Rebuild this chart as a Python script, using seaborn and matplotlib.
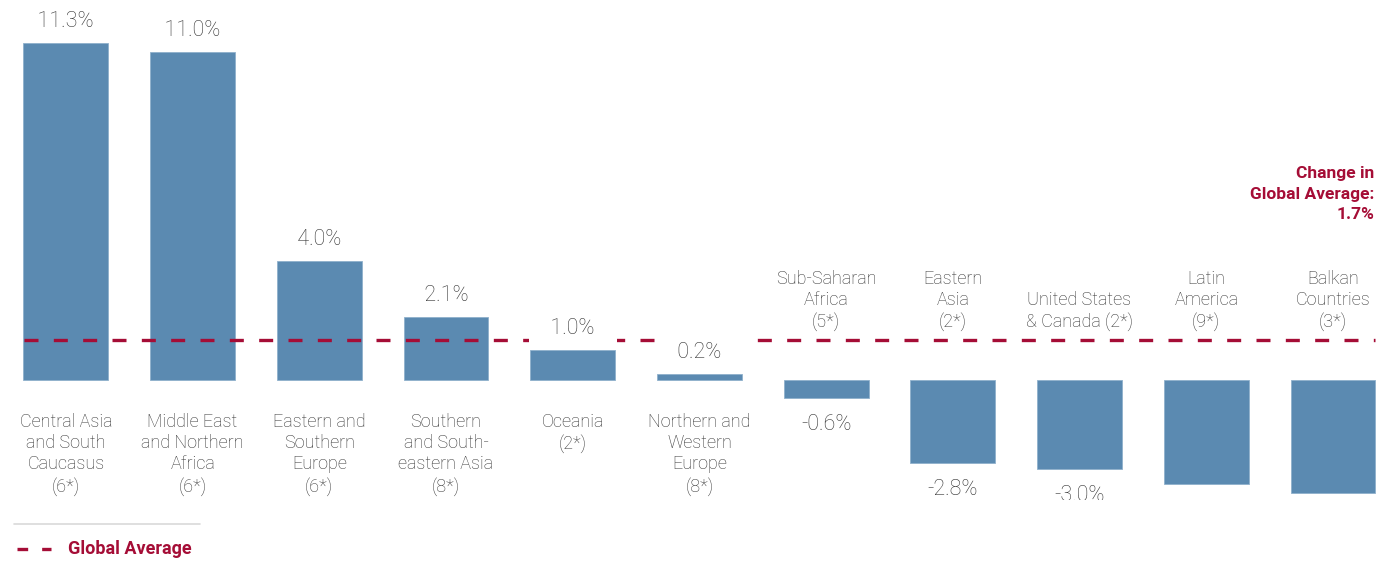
import pandas as pd
import matplotlib.pyplot as plt
import seaborn as sns
from matplotlib.lines import Line2D

# data
regions = ["Central Asia\nand South\nCaucasus\n(6*)",
           "Middle East\nand Northern\nAfrica\n(6*)",
           "Eastern and\nSouthern\nEurope\n(6*)",
           "Southern\nand South-\neastern Asia\n(8*)",
           "Oceania\n(2*)",
           "Northern and\nWestern\nEurope\n(8*)",
           "Sub-Saharan\nAfrica\n(5*)",
           "Eastern\nAsia\n(2*)",
           "United States\n& Canada (2*)",
           "Latin\nAmerica\n(9*)",
           "Balkan\nCountries\n(3*)"]
change = [11.3, 11.0, 4.0, 2.1, 1.0, 0.2, -0.6, -2.8, -3.0, -3.5, -3.8]
show_value = [True] * 9 + [False, False]  # last two labels fall off the chart
global_avg_label = "1.7%"
global_avg_line = 1.35  # where the dashed line sits on the chart

bar_col = "#5b8ab1"
red = "#a50d36"
grey = "#333333"

sns.set_style("white")
plt.rcParams["font.family"] = ["Roboto", "DejaVu Sans"]

df = pd.DataFrame({"region": regions, "change": change})

fig = plt.figure(figsize=(13.9, 5.71), dpi=100)
ax = fig.add_axes([0, 0.1243, 1, 0.8757])
sns.barplot(data=df, x="region", y="change", color=bar_col, saturation=1,
            width=0.67, ax=ax, zorder=2, edgecolor="#8fb0cc", linewidth=0.6)

ax.set_xlim(-0.52, 10.45)
ax.set_ylim(-4.03, 12.75)
ax.axis("off")

# global average dashed line
ax.plot([-0.33, 10.33], [global_avg_line, global_avg_line], color=red, lw=2.4,
        dashes=(4.2, 4.6), zorder=3)

for i, (lab, v) in enumerate(zip(regions, change)):
    if v >= 0:
        ax.annotate(f"   {v:.1f}%   ", (i, v), xytext=(0, 8), textcoords="offset points",
                    ha="center", va="bottom", fontsize=15.5, color=grey,
                    fontweight="light", zorder=4,
                    bbox=dict(boxstyle="square,pad=0.3", fc="white", ec="none"))
        ax.annotate(lab, (i, 0), xytext=(0, -24), textcoords="offset points",
                    ha="center", va="top", fontsize=13, color=grey,
                    fontweight="light", linespacing=1.22)
    else:
        if show_value[i]:
            ax.annotate(f"{v:.1f}%", (i, v), xytext=(0, -11.5), textcoords="offset points",
                        ha="center", va="top", fontsize=15.5, color=grey,
                        fontweight="light", zorder=4, clip_on=True)
        ax.annotate(lab, (i, 0), xytext=(0, 35), textcoords="offset points",
                    ha="center", va="bottom", fontsize=13, color=grey,
                    fontweight="light", linespacing=1.22)

fig.text(0.9885, 0.709, "Change in\nGlobal Average:\n" + global_avg_label,
         ha="right", va="top", fontsize=12.5, fontweight="bold", color=red,
         linespacing=1.45)

# legend at the bottom
fig.add_artist(Line2D([0.010, 0.144], [0.082, 0.082], color="#d9d9d9", lw=1.2,
                      transform=fig.transFigure))
fig.add_artist(Line2D([0.012, 0.037], [0.0385, 0.0385], color=red, lw=2.4,
                      dashes=(3.2, 4.2), transform=fig.transFigure))
fig.text(0.049, 0.0385, "Global Average", ha="left", va="center", fontsize=13,
         fontweight="bold", color=red)

fig.savefig("out.png", dpi=100)
